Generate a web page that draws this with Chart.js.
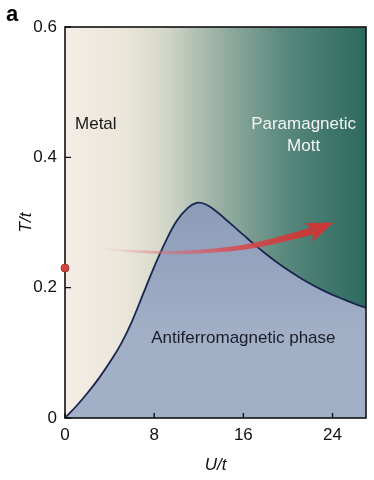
<!DOCTYPE html>
<html>
<head>
<meta charset="utf-8">
<script src="https://cdn.jsdelivr.net/npm/chart.js@4.4.1/dist/chart.umd.min.js"></script>
<style>
html, body { margin: 0; padding: 0; background: #fff; }
#wrap { width: 374px; height: 480px; }
</style>
</head>
<body>
<div id="wrap"><canvas id="chart" width="374" height="480"></canvas></div>
<script>
// antiferromagnetic boundary T_N(U)
const afU = [0, 1, 2, 3, 4, 5, 6, 7, 8, 9, 10, 11, 11.8, 12.6, 13.5, 14.8, 16, 17, 18, 19, 20, 21, 22, 23, 24, 25, 26, 27]
const afT = [0, 0.018, 0.038, 0.06, 0.085, 0.113, 0.148, 0.19, 0.232, 0.27, 0.302, 0.322, 0.33, 0.328, 0.318, 0.299, 0.281, 0.266, 0.252, 0.239, 0.227, 0.216, 0.206, 0.197, 0.189, 0.182, 0.175, 0.169]

// arrow path (last point is the tip)
const arrowU = [3, 6, 10, 14, 17, 20, 22.2, 24.1]
const arrowT = [0.261, 0.256, 0.254, 0.258, 0.265, 0.277, 0.287, 0.3]

const dotU = [0]
const dotT = [0.23]

const xTicks = [0, 8, 16, 24]
const yTicks = [0, 0.2, 0.4, 0.6]

const regionNames = ['Metal', 'Paramagnetic', 'Mott', 'Antiferromagnetic phase']

const FONT = '"Liberation Sans", Arial, Helvetica, sans-serif'
Chart.defaults.font.family = FONT
Chart.defaults.color = '#111'

const smooth = (pts, n) => {
    let out = []
    for (let i = 0; i < pts.length - 1; i++) {
        let p0 = pts[Math.max(i - 1, 0)], p1 = pts[i], p2 = pts[i + 1], p3 = pts[Math.min(i + 2, pts.length - 1)]
        for (let k = 0; k < n; k++) {
            let t = k / n, t2 = t * t, t3 = t2 * t
            let f = (a, b, c, d) => 0.5 * (2 * b + (-a + c) * t + (2 * a - 5 * b + 4 * c - d) * t2 + (-a + 3 * b - 3 * c + d) * t3)
            out.push({ x: f(p0.x, p1.x, p2.x, p3.x), y: f(p0.y, p1.y, p2.y, p3.y) })
        }
    }
    out.push(pts[pts.length - 1])
    return out
}

const drawArrow = (chart) => {
    const { ctx, scales: { x, y } } = chart
    let pts = arrowU.map((u, i) => ({ x: x.getPixelForValue(u), y: y.getPixelForValue(arrowT[i]) }))
    let tip = pts.pop()
    let line = smooth(pts, 12)
    let n = line.length
    let upper = [], lower = []
    line.forEach((p, i) => {
        let a = line[Math.max(i - 1, 0)], b = line[Math.min(i + 1, n - 1)]
        let dx = b.x - a.x, dy = b.y - a.y, len = Math.hypot(dx, dy) || 1
        let nx = -dy / len, ny = dx / len
        let w = (1.2 + 6.3 * i / (n - 1)) / 2
        upper.push({ x: p.x + nx * w, y: p.y + ny * w })
        lower.push({ x: p.x - nx * w, y: p.y - ny * w })
    })
    let x0 = line[0].x, x1 = line[n - 1].x
    let grad = ctx.createLinearGradient(x0, 0, x1, 0)
    grad.addColorStop(0, 'rgba(232,130,140,0)')
    grad.addColorStop(0.25, 'rgba(226,110,125,0.45)')
    grad.addColorStop(0.6, 'rgba(214,78,84,0.85)')
    grad.addColorStop(1, 'rgba(202,56,52,1)')
    ctx.save()
    ctx.beginPath()
    upper.forEach((p, i) => i ? ctx.lineTo(p.x, p.y) : ctx.moveTo(p.x, p.y))
    for (let i = lower.length - 1; i >= 0; i--) ctx.lineTo(lower[i].x, lower[i].y)
    ctx.closePath()
    ctx.fillStyle = grad
    ctx.fill()

    // head
    let base = line[n - 1]
    let dx = tip.x - base.x, dy = tip.y - base.y, len = Math.hypot(dx, dy)
    let ux = dx / len, uy = dy / len, nx = -uy, ny = ux
    ctx.beginPath()
    ctx.moveTo(tip.x, tip.y)
    ctx.lineTo(base.x + nx * 10 - ux * 4, base.y + ny * 10 - uy * 4)
    ctx.lineTo(base.x + ux * 1, base.y + uy * 1)
    ctx.lineTo(base.x - nx * 10 - ux * 4, base.y - ny * 10 - uy * 4)
    ctx.closePath()
    ctx.fillStyle = '#c9393a'
    ctx.fill()
    ctx.restore()
}

const phasePlugin = {
    id: 'phase',
    beforeDatasetsDraw(chart) {
        const { ctx, chartArea: a } = chart
        let g = ctx.createLinearGradient(a.left, 0, a.right, 0)
        g.addColorStop(0, '#f3ede5')
        g.addColorStop(0.2, '#ebe6da')
        g.addColorStop(0.33, '#d4d7c9')
        g.addColorStop(0.45, '#adbdb1')
        g.addColorStop(0.58, '#85a398')
        g.addColorStop(0.72, '#5c8a7f')
        g.addColorStop(0.85, '#447a6f')
        g.addColorStop(1, '#2d6a5f')
        ctx.save()
        ctx.fillStyle = g
        ctx.fillRect(a.left, a.top, a.right - a.left, a.bottom - a.top)
        ctx.restore()
    },
    beforeDatasetDraw(chart, args) {
        if (args.index !== 0) return
        const { ctx, chartArea: a, scales: { x, y } } = chart
        drawArrow(chart)
        ctx.save()
        ctx.strokeStyle = '#111'
        ctx.lineWidth = 1.6
        ctx.strokeRect(a.left, a.top, a.right - a.left, a.bottom - a.top)
        ctx.lineWidth = 1.4
        ctx.beginPath()
        xTicks.forEach(v => {
            let px = x.getPixelForValue(v)
            ctx.moveTo(px, a.bottom)
            ctx.lineTo(px, a.bottom - 5)
        })
        yTicks.forEach(v => {
            let py = y.getPixelForValue(v)
            ctx.moveTo(a.left, py)
            ctx.lineTo(a.left + 6, py)
        })
        ctx.stroke()
        ctx.restore()
    },
    afterDatasetsDraw(chart) {
        const { ctx, scales: { x, y } } = chart
        ctx.save()
        ctx.font = '17px ' + FONT
        ctx.textBaseline = 'middle'
        ctx.fillStyle = '#1a1a1a'
        ctx.textAlign = 'left'
        ctx.fillText(regionNames[0], x.getPixelForValue(0.9), y.getPixelForValue(0.451))
        ctx.textAlign = 'center'
        ctx.fillStyle = '#f2f4f2'
        ctx.fillText(regionNames[1], x.getPixelForValue(21.4), y.getPixelForValue(0.451))
        ctx.fillText(regionNames[2], x.getPixelForValue(21.4), y.getPixelForValue(0.417))
        ctx.fillStyle = '#1b1d2a'
        ctx.fillText(regionNames[3], x.getPixelForValue(16.0), y.getPixelForValue(0.123))
        ctx.font = 'bold 22px ' + FONT
        ctx.fillStyle = '#000'
        ctx.textAlign = 'left'
        ctx.textBaseline = 'alphabetic'
        ctx.fillText('a', 6, 21)
        ctx.restore()
    }
}

new Chart(document.getElementById('chart'), {
    type: 'scatter',
    data: {
        datasets: [
            {
                label: 'start',
                data: dotU.map((u, i) => ({ x: u, y: dotT[i] })),
                pointRadius: 4,
                pointBackgroundColor: '#d2463f',
                pointBorderColor: '#a93330',
                pointBorderWidth: 1,
                clip: false,
                order: 1
            },
            {
                label: 'Antiferromagnetic phase',
                data: afU.map((u, i) => ({ x: u, y: afT[i] })),
                showLine: true,
                pointRadius: 0,
                borderColor: '#1a2650',
                borderWidth: 1.8,
                tension: 0.4,
                fill: 'origin',
                backgroundColor: (c) => {
                    const { ctx, chartArea, scales } = c.chart
                    if (!chartArea) return '#a0aec6'
                    let g = ctx.createLinearGradient(0, scales.y.getPixelForValue(0.33), 0, scales.y.getPixelForValue(0.12))
                    g.addColorStop(0, '#8c9cb8')
                    g.addColorStop(1, '#a2b0c7')
                    return g
                },
                order: 2
            }
        ]
    },
    options: {
        responsive: false,
        animation: false,
        layout: { padding: { top: 27, right: 8, left: 0, bottom: 0 } },
        plugins: {
            legend: { display: false },
            tooltip: { enabled: false }
        },
        scales: {
            x: {
                type: 'linear',
                min: 0,
                max: 27,
                afterBuildTicks: s => { s.ticks = xTicks.map(v => ({ value: v })) },
                afterFit: s => { s.height = 62 },
                grid: { display: false, drawTicks: false },
                border: { display: false },
                ticks: { font: { size: 17 }, padding: 7, color: '#111', maxRotation: 0 },
                title: {
                    display: true,
                    text: 'U/t',
                    font: { size: 17, style: 'italic' },
                    color: '#111',
                    padding: { top: 0, bottom: 5 }
                }
            },
            y: {
                type: 'linear',
                min: 0,
                max: 0.6,
                afterBuildTicks: s => { s.ticks = yTicks.map(v => ({ value: v })) },
                afterFit: s => { s.width = 65 },
                grid: { display: false, drawTicks: false },
                border: { display: false },
                ticks: { font: { size: 17 }, padding: 8, color: '#111', callback: v => String(v) },
                title: {
                    display: true,
                    text: 'T/t',
                    font: { size: 17, style: 'italic' },
                    color: '#111',
                    padding: { top: 16, bottom: 0 }
                }
            }
        }
    },
    plugins: [phasePlugin]
})
</script>
</body>
</html>
